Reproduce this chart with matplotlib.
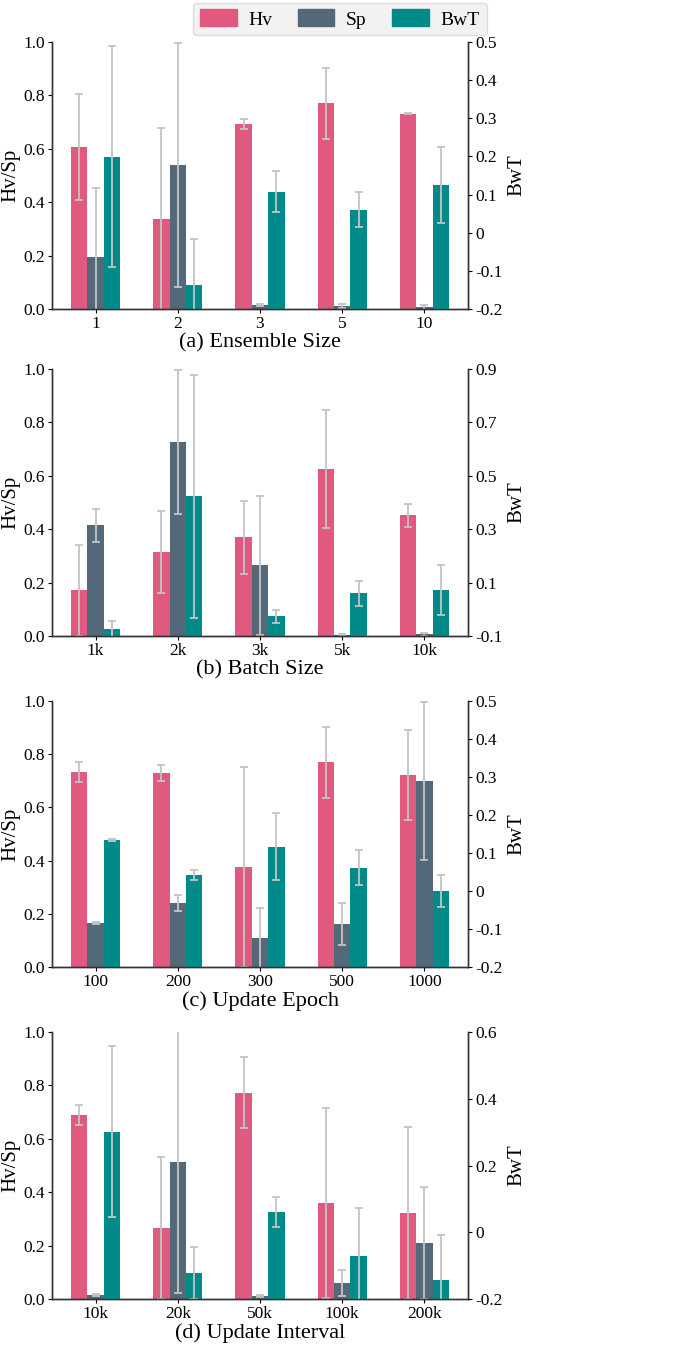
import numpy as np
import matplotlib
matplotlib.use("Agg")
import matplotlib.pyplot as plt
from matplotlib.patches import Patch
from matplotlib.ticker import FuncFormatter, FixedLocator

plt.rcParams["font.family"] = ["Liberation Serif", "DejaVu Serif"]

# ----------------------------------------------------------------------
# Data
# ----------------------------------------------------------------------
ens_labels = ["1", "2", "3", "5", "10"]
ens_hv = [0.607, 0.337, 0.694, 0.771, 0.731]
ens_hv_err = [0.20, 0.34, 0.019, 0.133, 0.002]
ens_sp = [0.195, 0.540, 0.015, 0.011, 0.006]
ens_sp_err = [0.26, 0.456, 0.003, 0.009, 0.008]
ens_bwt = [0.199, -0.137, 0.107, 0.060, 0.125]
ens_bwt_err = [0.29, 0.12, 0.054, 0.046, 0.100]

bat_labels = ["1k", "2k", "3k", "5k", "10k"]
bat_hv = [0.171, 0.314, 0.370, 0.625, 0.452]
bat_hv_err = [0.17, 0.153, 0.137, 0.22, 0.042]
bat_sp = [0.415, 0.726, 0.265, 0.003, 0.006]
bat_sp_err = [0.062, 0.27, 0.26, 0.003, 0.005]
bat_bwt = [-0.075, 0.424, -0.026, 0.060, 0.071]
bat_bwt_err = [0.03, 0.455, 0.025, 0.047, 0.094]

epo_labels = ["100", "200", "300", "500", "1000"]
epo_hv = [0.732, 0.729, 0.376, 0.770, 0.721]
epo_hv_err = [0.037, 0.030, 0.376, 0.134, 0.170]
epo_sp = [0.166, 0.241, 0.110, 0.162, 0.699]
epo_sp_err = [0.004, 0.030, 0.112, 0.080, 0.298]
epo_bwt = [0.134, 0.042, 0.116, 0.061, 0.000]
epo_bwt_err = [0.002, 0.014, 0.088, 0.046, 0.042]

int_labels = ["10k", "20k", "50k", "100k", "200k"]
int_hv = [0.690, 0.266, 0.772, 0.360, 0.322]
int_hv_err = [0.037, 0.265, 0.133, 0.356, 0.322]
int_sp = [0.016, 0.514, 0.012, 0.060, 0.210]
int_sp_err = [0.004, 0.49, 0.004, 0.048, 0.209]
int_bwt = [0.301, -0.122, 0.061, -0.071, -0.143]
int_bwt_err = [0.256, 0.079, 0.046, 0.143, 0.136]

panels = [
    ("(a) Ensemble Size", ens_labels, ens_hv, ens_hv_err, ens_sp, ens_sp_err,
     ens_bwt, ens_bwt_err, (-0.2, 0.5), [-0.2, -0.1, 0, 0.1, 0.2, 0.3, 0.4, 0.5]),
    ("(b) Batch Size", bat_labels, bat_hv, bat_hv_err, bat_sp, bat_sp_err,
     bat_bwt, bat_bwt_err, (-0.1, 0.9), [-0.1, 0.1, 0.3, 0.5, 0.7, 0.9]),
    ("(c) Update Epoch", epo_labels, epo_hv, epo_hv_err, epo_sp, epo_sp_err,
     epo_bwt, epo_bwt_err, (-0.2, 0.5), [-0.2, -0.1, 0, 0.1, 0.2, 0.3, 0.4, 0.5]),
    ("(d) Update Interval", int_labels, int_hv, int_hv_err, int_sp, int_sp_err,
     int_bwt, int_bwt_err, (-0.2, 0.6), [-0.2, 0, 0.2, 0.4, 0.6]),
]

C_HV = "#E05A80"
C_SP = "#536878"
C_BWT = "#008B8B"
E_COL = "#c4c4c4"
CAP_COL = "#a8a8a8"
W = 0.2

W_PX, H_PX = 674, 1347
fig = plt.figure(figsize=(W_PX / 100, H_PX / 100), dpi=100)

# axes boxes in pixels: (top, bottom)
boxes = [(42, 309), (369, 636), (701, 967), (1032, 1299)]
left_px, right_px = 52, 468


def rfmt(v, _):
    v = round(v, 3)
    return "0" if abs(v) < 1e-9 else f"{v:g}"


def draw_err(ax, x, y, err):
    _, caps, lines = ax.errorbar(x, y, yerr=err, fmt="none", ecolor=E_COL,
                                 elinewidth=1.3, capsize=3, capthick=1.3)
    for c in caps:
        c.set_color(CAP_COL)


for (title, labels, hv, hv_e, sp, sp_e, bwt, bwt_e, rlim, rticks), (top, bot) in zip(panels, boxes):
    ax = fig.add_axes([left_px / W_PX, (H_PX - bot) / H_PX,
                       (right_px - left_px) / W_PX, (bot - top) / H_PX])
    x = np.arange(len(labels))
    ax.bar(x - W, hv, W, color=C_HV, zorder=2)
    ax.bar(x, sp, W, color=C_SP, zorder=2)
    draw_err(ax, x - W, hv, hv_e)
    draw_err(ax, x, sp, sp_e)
    ax.set_ylim(0, 1.0)
    ax.set_yticks([0, 0.2, 0.4, 0.6, 0.8, 1.0])
    ax.yaxis.set_major_formatter(FuncFormatter(lambda v, _: f"{v:.1f}"))
    ax.set_xticks(x)
    ax.set_xticklabels(labels)
    ax.set_ylabel("Hv/Sp", fontsize=15, labelpad=2)
    ax.set_xlabel(title, fontsize=16, labelpad=1)
    ax.tick_params(labelsize=12.5, length=3, width=0.8, pad=2)

    ax2 = ax.twinx()
    lo = rlim[0]
    ax2.bar(x + W, np.array(bwt) - lo, W, bottom=lo, color=C_BWT, zorder=2)
    draw_err(ax2, x + W, bwt, bwt_e)
    ax2.set_ylim(*rlim)
    ax2.yaxis.set_major_locator(FixedLocator(rticks))
    ax2.yaxis.set_major_formatter(FuncFormatter(rfmt))
    ax2.set_ylabel("BwT", fontsize=15, labelpad=4)
    ax2.tick_params(labelsize=12.5, length=3, width=0.8, pad=2)
    ax.set_xlim(-0.53, len(labels) - 1 + 0.53)

    for a in (ax, ax2):
        a.spines["top"].set_visible(False)
        for s in ("left", "right", "bottom"):
            a.spines[s].set_color("#333333")
            a.spines[s].set_linewidth(1.0)

handles = [Patch(color=C_HV, label="Hv"), Patch(color=C_SP, label="Sp"),
           Patch(color=C_BWT, label="BwT")]
leg = fig.legend(handles=handles, loc="upper center", bbox_to_anchor=(0.504, 0.998),
                 ncol=3, fontsize=14, frameon=True, fancybox=True,
                 handlelength=1.9, handleheight=0.95, columnspacing=1.3,
                 handletextpad=0.6, borderpad=0.35, borderaxespad=0.0)
leg.get_frame().set_facecolor("#f2f2f2")
leg.get_frame().set_edgecolor("#dddddd")
leg.get_frame().set_alpha(1.0)

fig.savefig("out.png", dpi=100)
